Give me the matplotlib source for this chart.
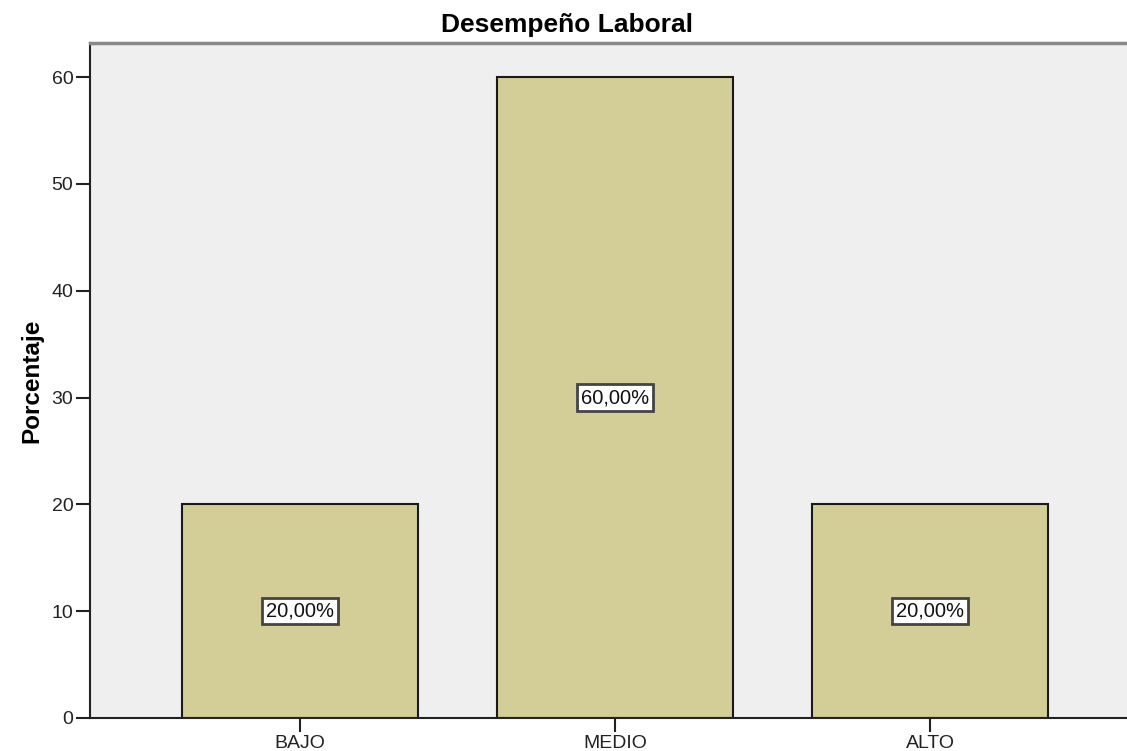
import numpy as np
import matplotlib
matplotlib.use('Agg')
from matplotlib import pyplot as plt

plt.rcParams['font.family'] = ['Liberation Sans', 'DejaVu Sans']

#### data
categorias = ['BAJO', 'MEDIO', 'ALTO']
porcentaje = [20.0, 60.0, 20.0]
etiquetas = ['20,00%', '60,00%', '20,00%']

fig = plt.figure(figsize=(11.27, 7.51), dpi=100)
ax = fig.add_axes([90/1127, 33/751, 1 - 90/1127, (718-43)/751])
ax.set_facecolor('#efefef')

x = np.arange(len(categorias))
ax.bar(x, porcentaje, width=0.75, color='#d3ce97', edgecolor='#1a1a1a', linewidth=1.5, zorder=2)

for xi, v, lab in zip(x, porcentaje, etiquetas):
    ax.text(xi, v/2, lab, ha='center', va='center', fontsize=14.5, color='#111111', zorder=3,
            bbox=dict(boxstyle='square,pad=0.18', facecolor='white', edgecolor='#444444', linewidth=2))

ax.set_xlim(-0.667, 2.625)
ax.set_ylim(0, 63.2)
ax.set_xticks(x)
ax.set_xticklabels(categorias)
ax.set_yticks([0, 10, 20, 30, 40, 50, 60])
ax.tick_params(axis='both', length=10, width=1.5, labelsize=14, colors='#222222', pad=2)

ax.spines['right'].set_visible(False)
ax.spines['top'].set_color('#888888')
ax.spines['top'].set_linewidth(2.5)
ax.spines['left'].set_linewidth(1.5)
ax.spines['bottom'].set_linewidth(1.5)
ax.spines['left'].set_color('#222222')
ax.spines['bottom'].set_color('#222222')

ax.set_ylabel('Porcentaje', fontsize=17.5, fontweight='bold', labelpad=6)
fig.text(567/1127, 1 - 25/751, 'Desempeño Laboral', ha='center', va='center', fontsize=19, fontweight='bold')

plt.savefig('out.png', dpi=100)
